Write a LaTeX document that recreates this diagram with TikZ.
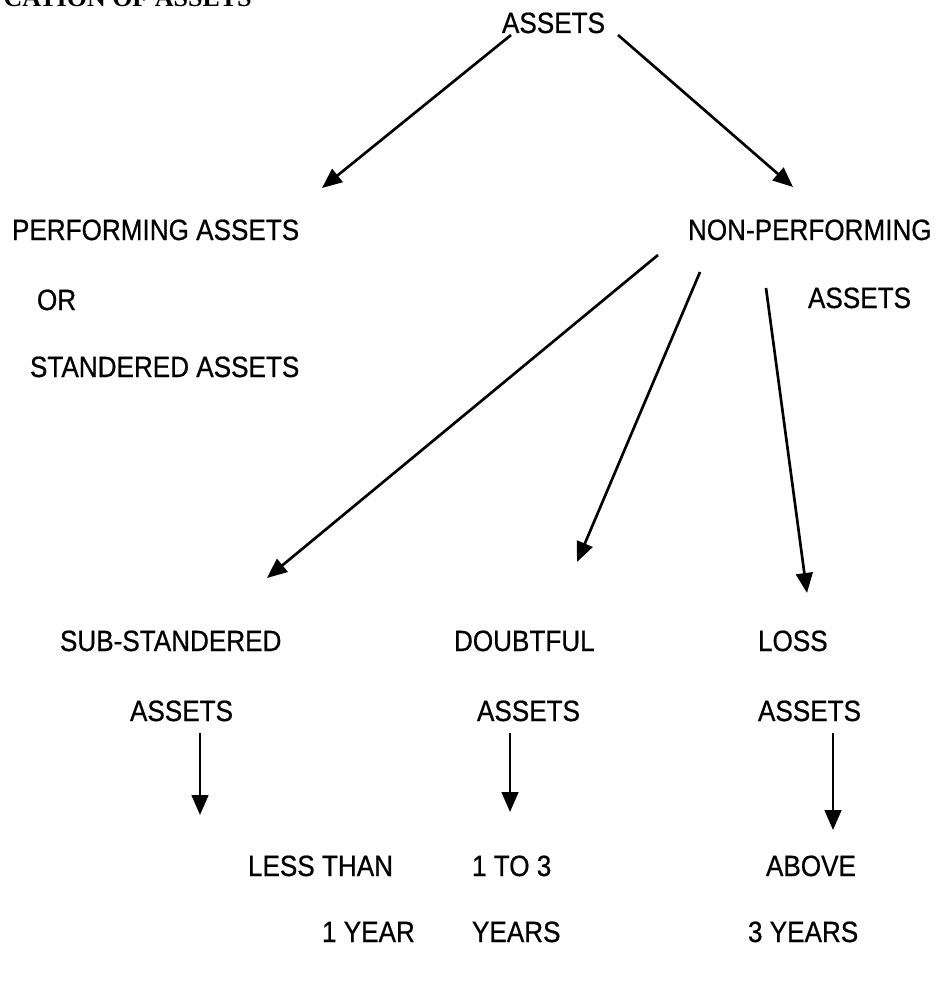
\documentclass[tikz,border=0pt]{standalone}
\usepackage{fontspec}
\setmainfont{Liberation Sans}[FakeStretch=0.89, FakeBold=0.6]
\newfontfamily\headfont{Liberation Serif}
\usetikzlibrary{arrows.meta,calc}
\tikzset{
  lbl/.style={inner sep=0pt, outer sep=0pt, anchor=base west, font=\fontsize{22}{26}\selectfont},
  conn/.style={line width=2pt, -{Triangle[length=15pt,width=12.5pt]}}
}
\begin{document}
\begin{tikzpicture}[x=0.75pt,y=-0.75pt]
\useasboundingbox (0,0) rectangle (940,1002);
\fill[white] (0,0) rectangle (940,1002);
\node[inner sep=0pt, anchor=base east, font=\headfont\bfseries\fontsize{19.5}{22}\selectfont] (head) at (252,7) {CATION OF ASSETS};
\node[lbl] (top) at (502,33) {ASSETS};
\node[lbl] (perf) at (12,240) {PERFORMING ASSETS};
\node[lbl] (or) at (37,310) {OR};
\node[lbl] (std) at (30,377) {STANDERED ASSETS};
\node[lbl] (npa) at (688,240) {NON-PERFORMING};
\node[lbl] (npa2) at (808,308) {ASSETS};
\node[lbl] (sub) at (60,651) {SUB-STANDERED};
\node[lbl] (sub2) at (130,721) {ASSETS};
\node[lbl] (dbt) at (454,651) {DOUBTFUL};
\node[lbl] (dbt2) at (477,721) {ASSETS};
\node[lbl] (loss) at (758,651) {LOSS};
\node[lbl] (loss2) at (758,721) {ASSETS};
\node[lbl] (lt) at (248,876) {LESS THAN};
\node[lbl] (lt2) at (322,942) {1 YEAR};
\node[lbl] (ot) at (472,876) {1 TO 3};
\node[lbl] (ot2) at (472,942) {YEARS};
\node[lbl] (ab) at (766,876) {ABOVE};
\node[lbl] (ab2) at (748,942) {3 YEARS};
% connectors
\draw[conn] ($(top.base west)+(9,2)$) -- ($(perf.base west)+(310,-52)$);
\draw[conn] ($(top.base west)+(116,2)$) -- ($(npa.base west)+(105,-53)$);
\draw[conn] ($(npa.base west)+(-30,15)$) -- ($(sub.base west)+(207,-73)$);
\draw[conn] ($(npa.base west)+(12,32)$) -- ($(dbt.base west)+(123,-89)$);
\draw[conn] ($(npa.base west)+(78,48)$) -- ($(loss.base west)+(49,-58)$);
\draw[conn] ($(sub2.base west)+(70,12)$) -- ($(lt.base west)+(-48,-61)$);
\draw[conn] ($(dbt2.base west)+(33,12)$) -- ($(ot.base west)+(38,-64)$);
\draw[conn] ($(loss2.base west)+(75,12)$) -- ($(ab.base west)+(67,-46)$);
\end{tikzpicture}
\end{document}
